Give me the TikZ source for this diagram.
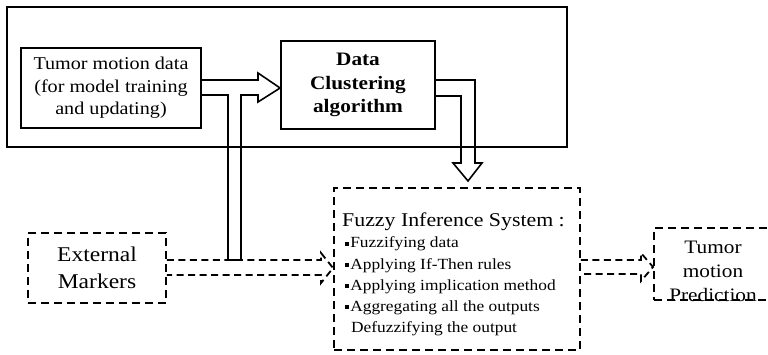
\documentclass[tikz,border=0pt]{standalone}
\usepackage{fontspec}
\setmainfont{Liberation Serif}[FakeStretch=1.12]
\usetikzlibrary{calc}
\newcommand\sqbul{\raisebox{2.4pt}{\rule{3.8pt}{3.8pt}}\hspace{1.8pt}}
\begin{document}
\begin{tikzpicture}[x=1pt,y=-1pt,
  solidbox/.style={draw,line width=1.8pt,inner sep=0pt,align=center},
  dashbox/.style={draw,line width=1.9pt,dash pattern=on 8pt off 5pt,inner sep=0pt,align=center},
  hollow/.style={line width=1.6pt,line join=miter},
  dhollow/.style={line width=1.8pt,dash pattern=on 7pt off 4.5pt},
  txt/.style={inner sep=0pt,anchor=base west},
  itm/.style={txt,font=\fontsize{15.5}{21}\selectfont}]
\useasboundingbox (0,0) rectangle (768,355);
% frame
\node[draw,line width=1.3pt,minimum width=560pt,minimum height=140pt,inner sep=0pt] (frame) at (287,77) {};
% boxes
\node[solidbox,minimum width=180pt,minimum height=80pt,font=\fontsize{18}{22.5}\selectfont] (tumor) at (111,88)
  {Tumor motion data\\(for model training\\and updating)};
\node[solidbox,minimum width=154pt,minimum height=88pt,font=\fontsize{19}{23.5}\selectfont\bfseries] (clus) at (358,85)
  {Data\\Clustering\\algorithm};
\node[dashbox,minimum width=138pt,minimum height=70pt,font=\fontsize{21}{27}\selectfont] (em) at (97,268)
  {External\\Markers};
\node[dashbox,minimum width=246pt,minimum height=162pt] (fis) at (457,269) {};
\node[dashbox,minimum width=118pt,minimum height=72pt] (pred) at (713,264) {};
\node[inner sep=0pt,align=center,font=\fontsize{19}{24}\selectfont] (predtext) at (713,271)
  {Tumor\\motion\\Prediction};
% FIS text
\node[txt,font=\fontsize{19.5}{23}\selectfont] (fist) at (342,226.5) {Fuzzy Inference System :};
\node[itm] (l1) at (344.5,248) {\sqbul Fuzzifying data};
\node[itm] (l2) at (344.5,269.5) {\sqbul Applying If-Then rules};
\node[itm] (l3) at (344.5,290.5) {\sqbul Applying implication method};
\node[itm] (l4) at (344.5,311.5) {\sqbul Aggregating all the outputs};
\node[itm] (l5) at (351,332.5) {Defuzzifying the output};
% dashed hollow arrows
\draw[dhollow] (em.east |- 0,260) -- (321,260) -- (321,253) -- (fis.west |- 0,268) -- (321,283) -- (321,275) -- (em.east |- 0,275);
\draw[dhollow] (fis.east |- 0,260) -- (641,260) -- (641,253) -- (pred.west |- 0,267) -- (641,281) -- (641,274) -- (fis.east |- 0,274);
% solid hollow arrows
\draw[hollow] (tumor.east |- 0,80) -- (258,80) -- (258,73) -- (clus.west |- 0,88) -- (258,102) -- (258,95)
  -- (241,95) -- (241,260) -- (228,260) -- (228,95) -- (tumor.east |- 0,95);
\coordinate (tip) at (468,181);
\draw[hollow] (clus.east |- 0,80) -- (475,80) -- (475,163) -- (482,163) -- (tip) -- (453,163) -- (461,163)
  -- (461,96) -- (clus.east |- 0,96);
\end{tikzpicture}
\end{document}
